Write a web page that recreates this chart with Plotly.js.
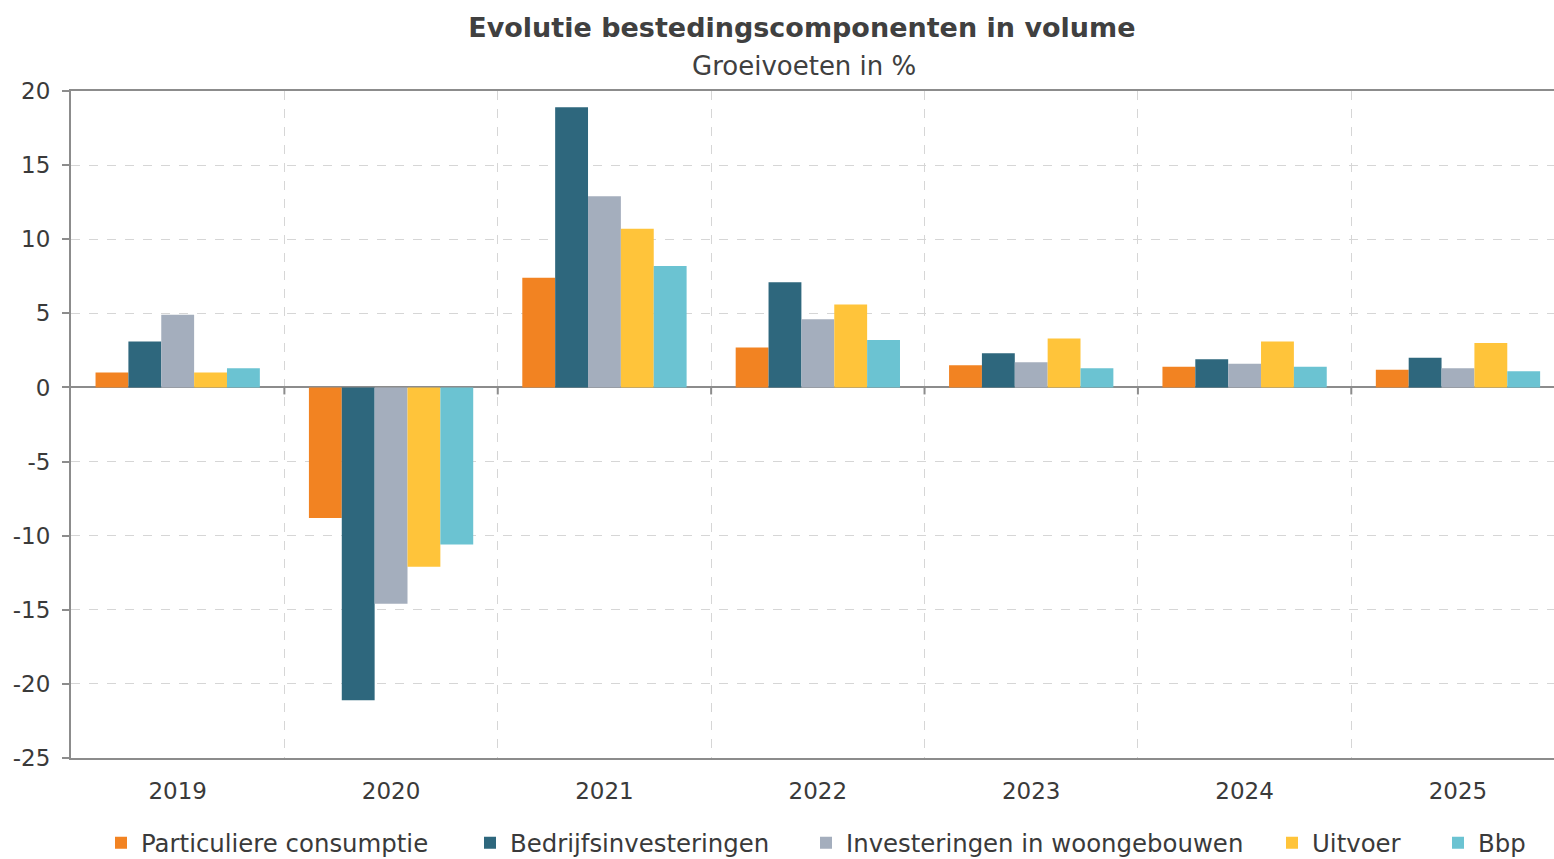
<!DOCTYPE html>
<html>
<head>
<meta charset="utf-8">
<script src="https://cdn.plot.ly/plotly-3.0.1.min.js"></script>
<style>html,body{margin:0;padding:0;background:#fff;}#chart{width:1554px;height:859px;}</style>
</head>
<body>
<div id="chart"></div>
<script>
const years = ['2019', '2020', '2021', '2022', '2023', '2024', '2025'];
const seriesNames = ['Particuliere consumptie', 'Bedrijfsinvesteringen', 'Investeringen in woongebouwen', 'Uitvoer', 'Bbp'];
const particuliereConsumptie = [1.0, -8.8, 7.4, 2.7, 1.5, 1.4, 1.2];
const bedrijfsinvesteringen = [3.1, -21.1, 18.9, 7.1, 2.3, 1.9, 2.0];
const woongebouwen = [4.9, -14.6, 12.9, 4.6, 1.7, 1.6, 1.3];
const uitvoer = [1.0, -12.1, 10.7, 5.6, 3.3, 3.1, 3.0];
const bbp = [1.3, -10.6, 8.2, 3.2, 1.3, 1.4, 1.1];
const yTickVals = [-25, -20, -15, -10, -5, 0, 5, 10, 15, 20];
const yTickLabels = ['-25', '-20', '-15', '-10', '-5', '0', '5', '10', '15', '20'];
const colors = ['#F28322', '#2E677D', '#A4AEBD', '#FFC43A', '#6BC3D2'];

const values = [particuliereConsumptie, bedrijfsinvesteringen, woongebouwen, uitvoer, bbp];
const font = '"DejaVu Sans", Verdana, sans-serif';
const textColor = '#3a3a3a';

// legend placement (paper x of each legend box's left edge)
const legendX = [101, 470, 806, 1272, 1438].map(px => (px - 71) / 1483);

const traces = values.map((v, i) => ({
  type: 'bar',
  name: seriesNames[i],
  x: years,
  y: v,
  legend: i === 0 ? 'legend' : 'legend' + (i + 1),
  marker: {color: colors[i], line: {width: 0}},
  hoverinfo: 'x+y+name'
}));

const layout = {
  width: 1554,
  height: 859,
  margin: {l: 71, r: 0, t: 91, b: 101, autoexpand: false},
  paper_bgcolor: '#ffffff',
  plot_bgcolor: '#ffffff',
  font: {family: font, color: textColor, size: 22},
  barmode: 'group',
  bargap: 0.23,
  bargroupgap: 0,
  title: {
    text: '<b>Evolutie bestedingscomponenten in volume</b>',
    font: {family: font, size: 27, color: '#404040'},
    x: 0.516, xanchor: 'center',
    y: 1 - 28 / 859, yanchor: 'middle'
  },
  annotations: [{
    text: 'Groeivoeten in %',
    xref: 'paper', yref: 'paper',
    x: 0.494, y: 1.0375,
    xanchor: 'center', yanchor: 'middle',
    showarrow: false,
    font: {family: font, size: 26, color: '#404040'}
  }],
  shapes: years.slice(1).map((y, i) => ({
    type: 'line',
    xref: 'x', yref: 'y',
    x0: i + 0.5, x1: i + 0.5,
    ysizemode: 'pixel', yanchor: 0,
    y0: 0, y1: -7,
    line: {color: '#8c8c8c', width: 2}
  })),
  xaxis: {
    type: 'category',
    range: [-0.5, 6.45],
    tickson: 'boundaries',
    ticks: '',
    showgrid: true,
    gridcolor: '#d6d6d6',
    griddash: 'dash',
    gridwidth: 1,
    showline: true,
    linecolor: '#8c8c8c',
    linewidth: 2,
    mirror: true,
    ticklabelstandoff: 11,
    tickfont: {family: font, size: 23, color: textColor}
  },
  yaxis: {
    range: [-25, 20],
    tickmode: 'array',
    tickvals: yTickVals,
    ticktext: yTickLabels,
    ticks: 'outside',
    ticklen: 7,
    tickcolor: '#8c8c8c',
    tickwidth: 2,
    showgrid: true,
    gridcolor: '#d6d6d6',
    griddash: 'dash',
    gridwidth: 1,
    zeroline: true,
    zerolinecolor: '#8c8c8c',
    zerolinewidth: 2,
    showline: true,
    linecolor: '#8c8c8c',
    linewidth: 2,
    ticklabelstandoff: 7,
    tickfont: {family: font, size: 23, color: textColor}
  },
  showlegend: true
};

legendX.forEach((lx, i) => {
  const key = i === 0 ? 'legend' : 'legend' + (i + 1);
  layout[key] = {
    orientation: 'h',
    x: lx, xanchor: 'left',
    y: -0.1274, yanchor: 'middle',
    font: {family: font, size: 24.4, color: textColor},
    itemwidth: 30,
    bgcolor: 'rgba(0,0,0,0)'
  };
});

Plotly.newPlot('chart', traces, layout, {displayModeBar: false, responsive: false});
</script>
</body>
</html>
